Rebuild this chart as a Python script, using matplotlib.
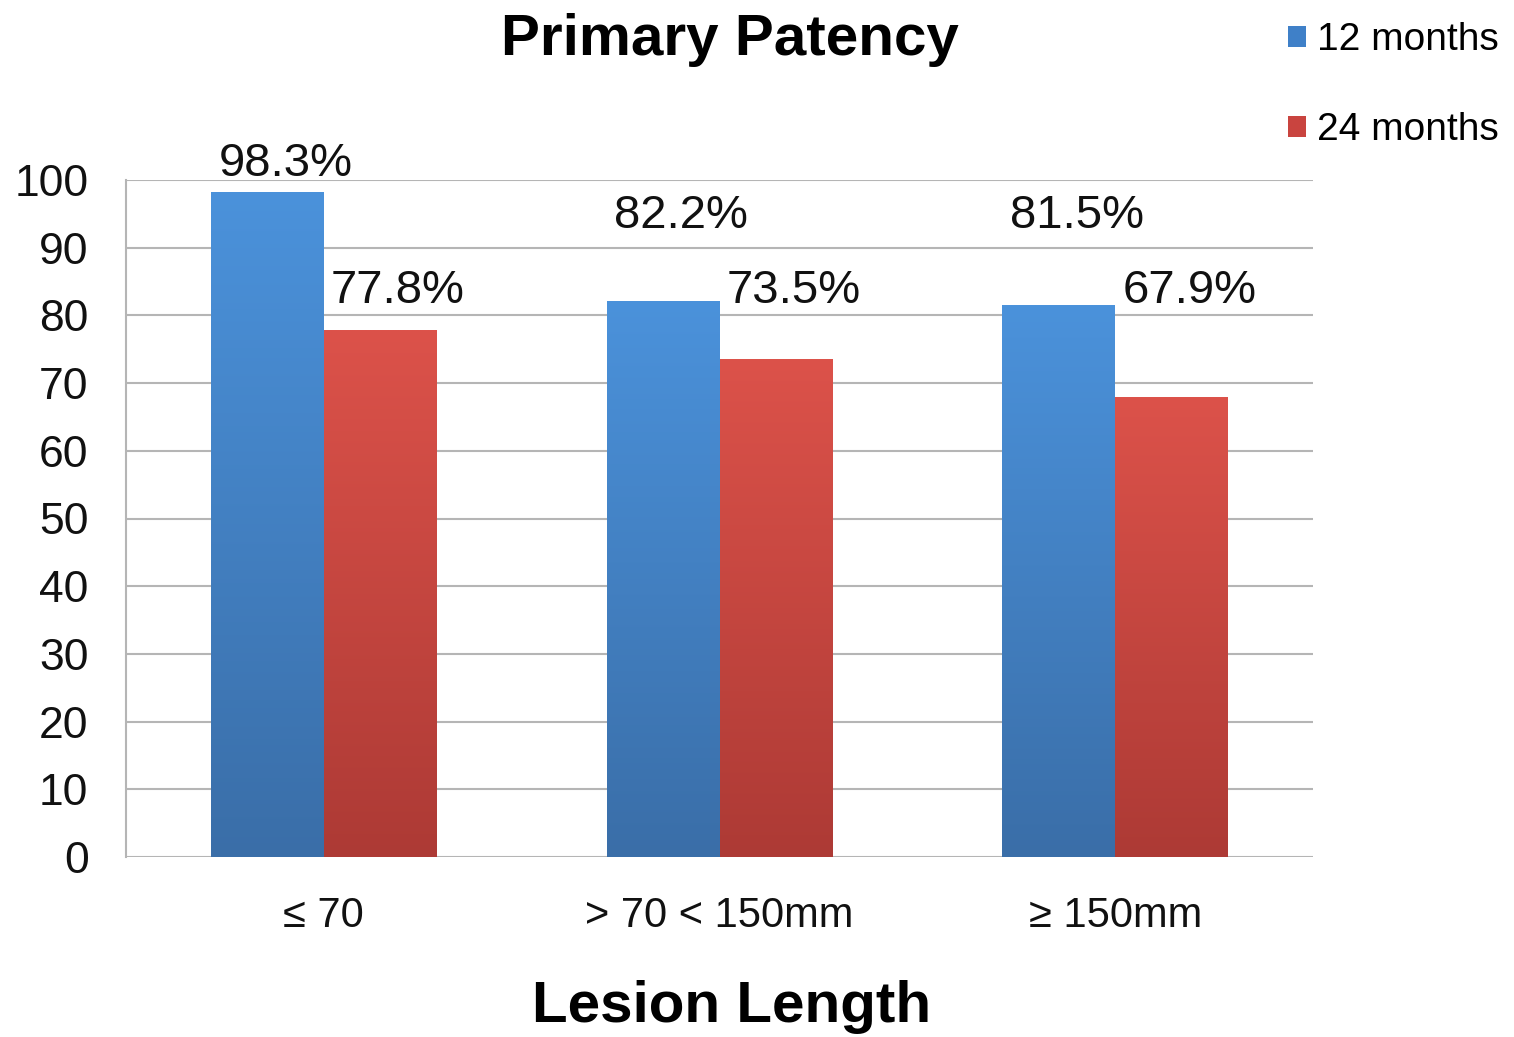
import numpy as np
import matplotlib
matplotlib.use("Agg")
import matplotlib.pyplot as plt
from matplotlib.colors import LinearSegmentedColormap
from matplotlib.patches import Patch

plt.rcParams["font.family"] = ["Liberation Sans", "DejaVu Sans"]

categories = ["\u2264 70", "> 70 < 150mm", "\u2265 150mm"]
series = ["12 months", "24 months"]
patency_12 = [98.3, 82.2, 81.5]
patency_24 = [77.8, 73.5, 67.9]
yticks = [0, 10, 20, 30, 40, 50, 60, 70, 80, 90, 100]

BLUE = ("#3a6ea8", "#4b92db")   # bottom, top
RED = ("#ad3a35", "#dc524a")
LABEL_ROWS = (94.7, 83.6)      # height of the value labels per series


def gradient_bars(ax, x, heights, width, colors):
    bars = ax.bar(x, heights, width, align="edge", facecolor="none", edgecolor="none")
    cmap = LinearSegmentedColormap.from_list("g", list(colors))
    grad = np.linspace(0, 1, 256).reshape(-1, 1)
    for b in bars:
        x0, y0 = b.get_x(), b.get_y()
        im = ax.imshow(grad, cmap=cmap, origin="lower", aspect="auto",
                       extent=[x0, x0 + b.get_width(), y0, y0 + b.get_height()],
                       zorder=2)
        im.set_clip_path(b)
    return bars


fig = plt.figure(figsize=(15.14, 10.37), dpi=100)
ax = fig.add_axes([126 / 1514, 1 - 857 / 1037, 1187 / 1514, 677 / 1037])

x = np.arange(len(categories))
w = 0.285
gradient_bars(ax, x - w, patency_12, w, BLUE)
gradient_bars(ax, x, patency_24, w, RED)

for i in range(len(categories)):
    for vals, row, off in ((patency_12, LABEL_ROWS[0], -w / 2), (patency_24, LABEL_ROWS[1], w / 2)):
        v = vals[i]
        y = max(row, v + 4)
        ax.text(x[i] + off + 0.045, y, f"{v}%", ha="center", va="center",
                fontsize=34, color="#111111", clip_on=False)

ax.set_xlim(-0.5, 2.5)
ax.set_ylim(0, 100)
ax.set_yticks(yticks)
ax.set_yticklabels([str(t) for t in yticks], fontsize=32)
ax.set_xticks(x)
ax.set_xticklabels(categories, fontsize=30)
ax.tick_params(axis="y", length=0, pad=27, colors="#111111")
ax.tick_params(axis="x", length=0, pad=28, colors="#111111")
ax.yaxis.grid(True, color="#b5b5b5", linewidth=1.5)
ax.set_axisbelow(True)
for s in ("top", "right", "bottom"):
    ax.spines[s].set_visible(False)
ax.spines["left"].set_color("#b5b5b5")
ax.spines["left"].set_linewidth(1.5)

fig.text(730 / 1514, 1 - 40 / 1037, "Primary Patency", ha="center", va="center",
         fontsize=42, fontweight="bold")
fig.text(732 / 1514, 1 - 1007 / 1037, "Lesion Length", ha="center", va="center",
         fontsize=42, fontweight="bold")

handles = [Patch(facecolor="#3f80c8"), Patch(facecolor="#c9443f")]
fig.legend(handles, series, loc="upper left", bbox_to_anchor=(1288 / 1514, 1 - 22 / 1037),
           frameon=False, fontsize=28, borderpad=0, borderaxespad=0,
           handlelength=0.45, handleheight=0.45, handletextpad=0.3, labelspacing=1.4)

fig.savefig("out.png", dpi=100)
